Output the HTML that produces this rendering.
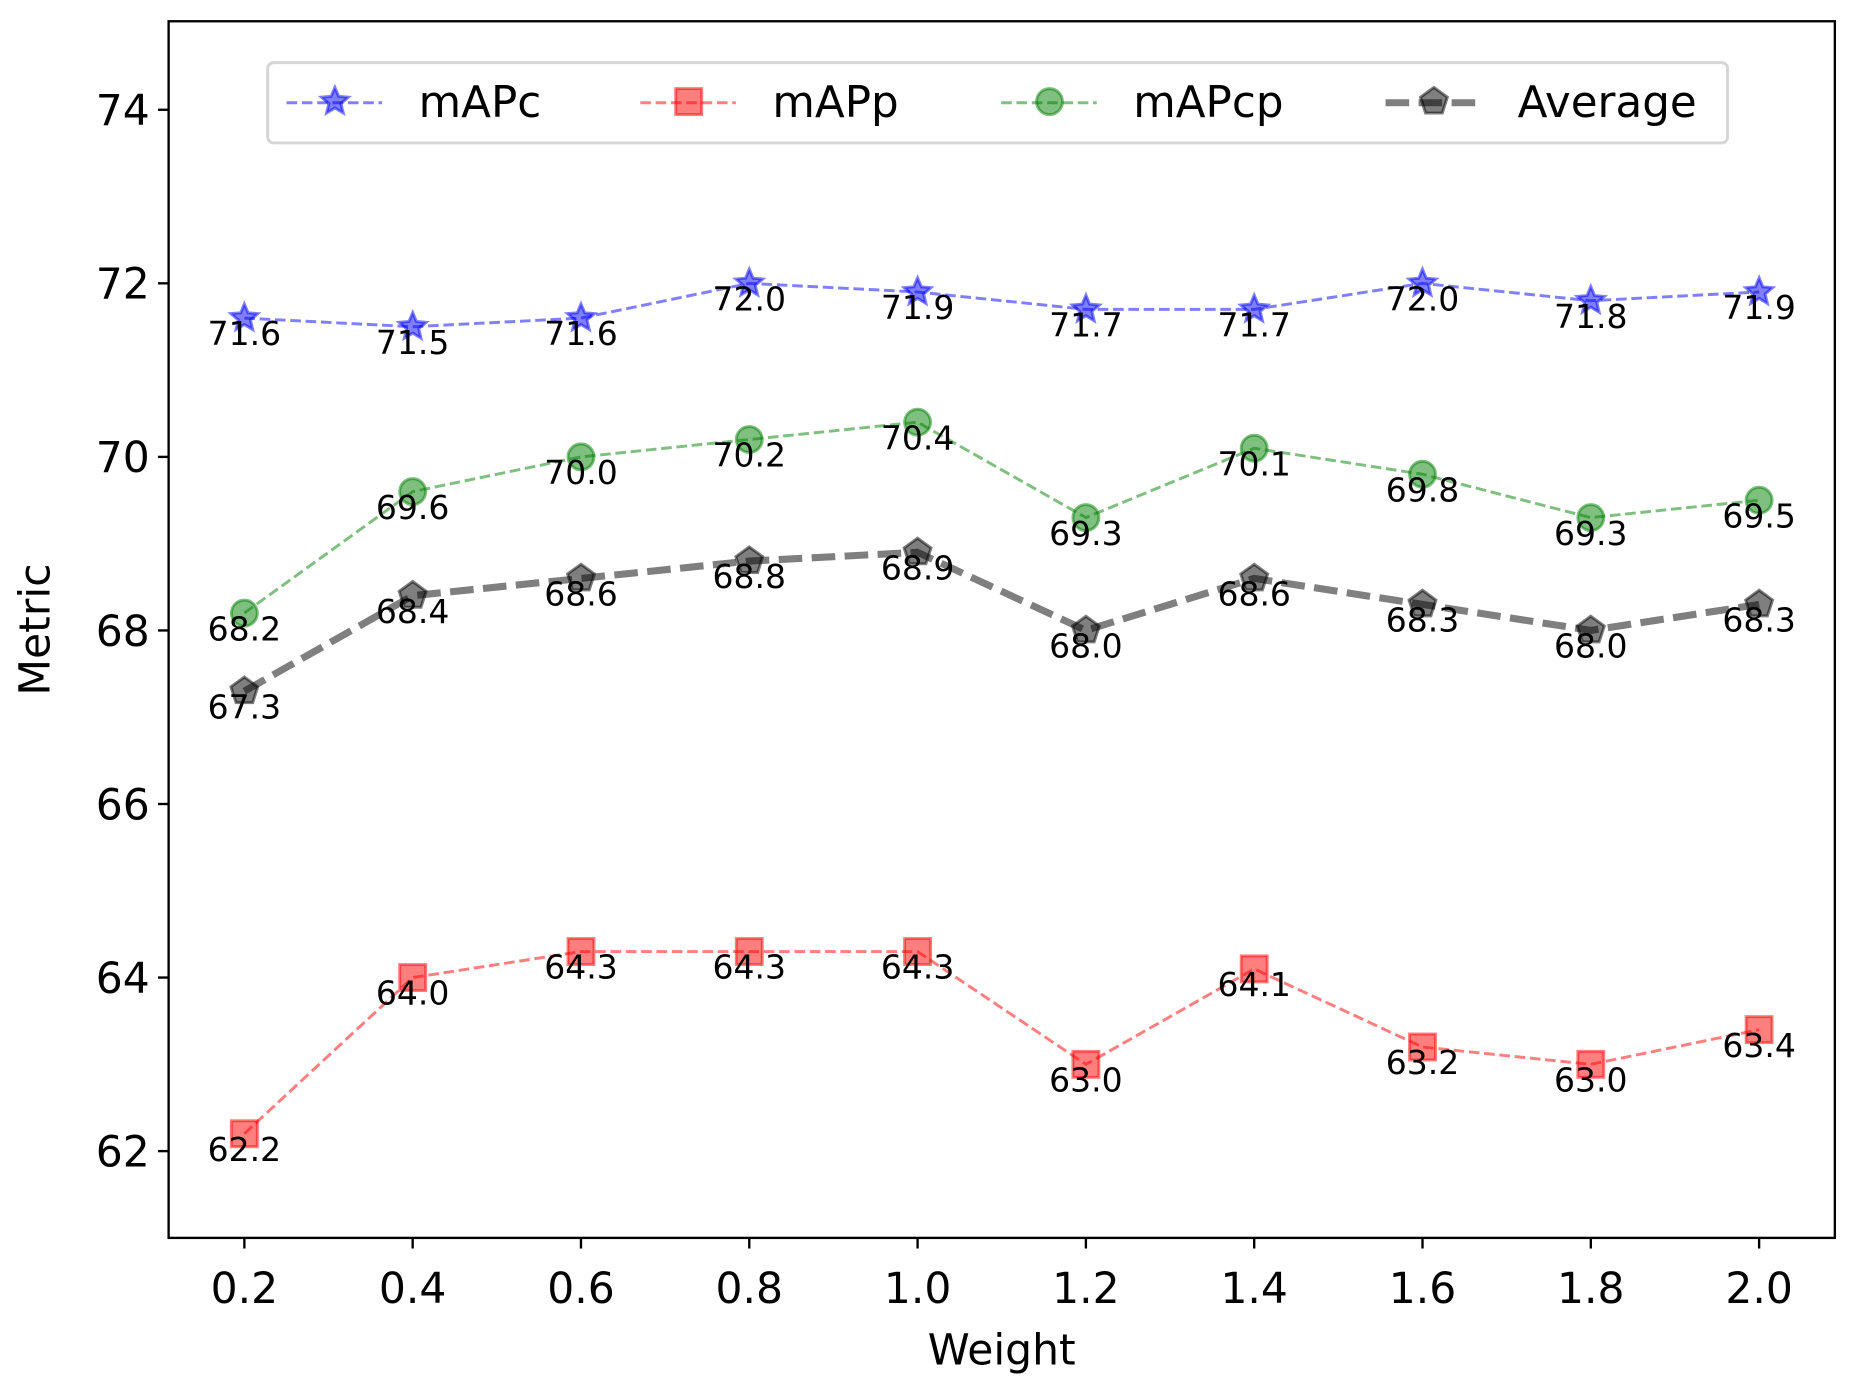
<!DOCTYPE html>
<html><head><meta charset="utf-8"><style>
html,body{margin:0;padding:0;background:#fff;}
svg{display:block;font-family:"DejaVu Sans","Liberation Sans",sans-serif;}
</style></head><body>
<svg id="chart" width="1849" height="1382" viewBox="0 0 1568 1170" preserveAspectRatio="none" xmlns="http://www.w3.org/2000/svg">
<rect width="1568" height="1170" fill="#fff"/>
<g id="plot"></g>
</svg>
<script>
const categories = [0.2,0.4,0.6,0.8,1.0,1.2,1.4,1.6,1.8,2.0];
const mAPc = [71.6,71.5,71.6,72.0,71.9,71.7,71.7,72.0,71.8,71.9];
const mAPp = [62.2,64.0,64.3,64.3,64.3,63.0,64.1,63.2,63.0,63.4];
const mAPcp = [68.2,69.6,70.0,70.2,70.4,69.3,70.1,69.8,69.3,69.5];
const average = [67.3,68.4,68.6,68.8,68.9,68.0,68.6,68.3,68.0,68.3];
const yTicks = [62,64,66,68,70,72,74];
const xTickLabels = ["0.2","0.4","0.6","0.8","1.0","1.2","1.4","1.6","1.8","2.0"];

const L=143,R=1556,T=18,B=1048;
const xMin=0.11,xMax=2.09,yMin=61.0,yMax=75.02;
const X=v=>L+(v-xMin)/(xMax-xMin)*(R-L);
const Y=v=>B-(v-yMin)/(yMax-yMin)*(B-T);
const NS="http://www.w3.org/2000/svg";
const g=document.getElementById('plot');
function mk(tag,attrs,parent){const e=document.createElementNS(NS,tag);for(const k in attrs)e.setAttribute(k,attrs[k]);(parent||g).appendChild(e);return e;}
function starPts(cx,cy,r){let p=[];for(let i=0;i<10;i++){const a=-Math.PI/2+i*Math.PI/5;const rr=i%2?r*0.45:r;p.push((cx+rr*Math.cos(a)).toFixed(1)+','+(cy+rr*Math.sin(a)).toFixed(1));}return p.join(' ');}
function pentPts(cx,cy,r){let p=[];for(let i=0;i<5;i++){const a=-Math.PI/2+i*2*Math.PI/5;p.push((cx+r*Math.cos(a)).toFixed(1)+','+(cy+r*Math.sin(a)).toFixed(1));}return p.join(' ');}
function marker(type,cx,cy,color,parent){
  let m;
  if(type==='star') m=mk('polygon',{points:starPts(cx,cy,12),fill:color,'fill-opacity':0.5,stroke:color,'stroke-opacity':0.5,'stroke-width':2.5},parent);
  else if(type==='square') m=mk('rect',{x:cx-11,y:cy-11,width:22,height:22,fill:color,'fill-opacity':0.5,stroke:color,'stroke-opacity':0.5,'stroke-width':2.5},parent);
  else if(type==='circle') m=mk('circle',{cx:cx,cy:cy,r:11,fill:color,'fill-opacity':0.5,stroke:color,'stroke-opacity':0.5,'stroke-width':2.5},parent);
  else m=mk('polygon',{points:pentPts(cx,cy,12),fill:color,'fill-opacity':0.5,stroke:color,'stroke-opacity':0.5,'stroke-width':2.5},parent);
  return m;
}
const series=[
 {name:'mAPc',data:mAPc,color:'#0000ff',type:'star',w:2.5,dash:'9,4'},
 {name:'mAPp',data:mAPp,color:'#ff0000',type:'square',w:2.5,dash:'9,4'},
 {name:'mAPcp',data:mAPcp,color:'#008000',type:'circle',w:2.5,dash:'9,4'},
 {name:'Average',data:average,color:'#000000',type:'pent',w:6,dash:'20,8'}
];
series.forEach(s=>{
  const sg=mk('g',{});
  
  
  const pts=s.data.map((v,i)=>X(categories[i]).toFixed(1)+','+Y(v).toFixed(1)).join(' ');
  const ln=mk('polyline',{points:pts,fill:'none',stroke:s.color,'stroke-opacity':0.5,'stroke-width':s.w,'stroke-dasharray':s.dash},sg);
  
  
  s.data.forEach((v,i)=>{
    const m=marker(s.type,X(categories[i]),Y(v),s.color,sg);
    
    
  });
  s.data.forEach((v,i)=>{
    const t=mk('text',{x:X(categories[i]),y:Y(v)+23,'text-anchor':'middle','font-size':28,fill:'#000'},sg);
    t.textContent=v.toFixed(1);
    
    
  });
});
const fr=mk('rect',{x:L,y:T,width:R-L,height:B-T,fill:'none',stroke:'#000','stroke-width':2});


yTicks.forEach(v=>{
  const tk=mk('line',{x1:L-9,x2:L,y1:Y(v),y2:Y(v),stroke:'#000','stroke-width':2});
  
  
  const t=mk('text',{x:L-16,y:Y(v)+13,'text-anchor':'end','font-size':36});
  t.textContent=v;
  
  
});
categories.forEach((c,i)=>{
  const tk=mk('line',{x1:X(c),x2:X(c),y1:B,y2:B+9,stroke:'#000','stroke-width':2});
  
  
  const t=mk('text',{x:X(c),y:B+55,'text-anchor':'middle','font-size':36});
  t.textContent=xTickLabels[i];
  
  
});
const xl=mk('text',{x:(L+R)/2,y:1155,'text-anchor':'middle','font-size':36});
xl.textContent='Weight';


const yl=mk('text',{x:42,y:(T+B)/2,'text-anchor':'middle','font-size':36,transform:'rotate(-90 42 '+((T+B)/2)+')'});
yl.textContent='Metric';


const lg=mk('g',{});


const lb=mk('rect',{x:227,y:53,width:1238,height:68,rx:5,fill:'#fff','fill-opacity':0.8,stroke:'#d6d6d6','stroke-width':2.5},lg);


const lx=[243,543,849,1175];
series.forEach((s,i)=>{
  const eg=mk('g',{},lg);
  
  
  mk('line',{x1:lx[i],x2:lx[i]+81,y1:87,y2:87,stroke:s.color,'stroke-opacity':0.5,'stroke-width':s.w,'stroke-dasharray':s.dash},eg);
  marker(s.type,lx[i]+41,86,s.color,eg);
  const t=mk('text',{x:lx[i]+112,y:99,'font-size':37},eg);
  t.textContent=s.name;
});
</script>
</body></html>
